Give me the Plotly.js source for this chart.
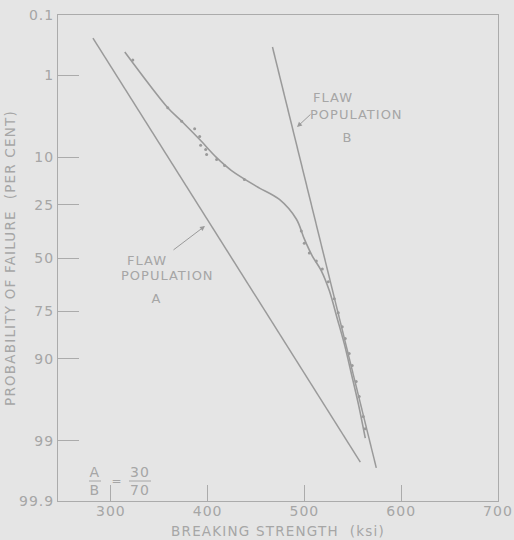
<!DOCTYPE html>
<html>
<head>
<meta charset="utf-8">
<script src="https://cdn.plot.ly/plotly-3.0.1.min.js"></script>
<style>
  html, body { margin: 0; padding: 0; background: #e5e5e5; }
  #chart { width: 514px; height: 540px; }
  .main-svg text { letter-spacing: 1px; }
  .g-xtitle text, .g-ytitle text { letter-spacing: 1.2px; }
</style>
</head>
<body>
<div id="chart"></div>
<script>
// ---- data (breaking strength in ksi, probability of failure in per cent) ----
const probTickPct = [0.1, 1, 10, 25, 50, 75, 90, 99, 99.9];
const probTickText = ["0.1", "1", "10", "25", "50", "75", "90", "99", "99.9"];
const strengthTicks = [300, 400, 500, 600, 700];

// Flaw population A (straight line on probability paper)
const popA_strength = [281.5, 557.8];
const popA_pct = [0.258, 99.527];

// Flaw population B
const popB_strength = [467, 574.3];
const popB_pct = [0.364, 99.62];

// Combined (bimodal) fitted curve
const fit_strength = [314.4, 358.8, 373.2, 391.8, 409.3, 424.7, 450.5, 474.2, 491.8, 500.0, 508.2, 517.5, 525.8, 534.0, 541.2, 548.5, 555.7, 562.9];
const fit_pct = [0.44, 2.8, 4.1, 6.6, 10.1, 13.3, 18.1, 22.8, 31.1, 40.5, 49, 56.5, 66.2, 78, 86.2, 92.9, 96.8, 98.9];

// Experimental points
const exp_strength = [322.7, 358.8, 373.2, 386.6, 391.8, 392.8, 398, 399, 409.3, 417.5, 438,
  496.8, 499.9, 505.1, 512.3, 518.5, 524.7, 530.9, 535, 539.1, 542.2, 546.3, 549.4, 553.5, 556.6, 560.8, 562.8];
const exp_pct = [0.59, 2.8, 4.1, 5.0, 6.1, 7.6, 8.4, 9.4, 10.5, 12.0, 15.9,
  36.6, 42.5, 47.5, 51.5, 55.5, 61.9, 69.8, 75.7, 80.9, 84.7, 88.8, 91.4, 94.2, 96.1, 97.8, 98.5];

// ---- normal probability scale (inverse standard normal CDF, Acklam) ----
function probit(p) {
  const a = [-3.969683028665376e+01, 2.209460984245205e+02, -2.759285104469687e+02, 1.383577518672690e+02, -3.066479806614716e+01, 2.506628277459239e+00];
  const b = [-5.447609879822406e+01, 1.615858368580409e+02, -1.556989798598866e+02, 6.680131188771972e+01, -1.328068155288572e+01];
  const c = [-7.784894002430293e-03, -3.223964580411365e-01, -2.400758277161838e+00, -2.549732539343734e+00, 4.374664141464968e+00, 2.938163982698783e+00];
  const d = [7.784695709041462e-03, 3.224671290700398e-01, 2.445134137142996e+00, 3.754408661907416e+00];
  const pl = 0.02425, ph = 1 - pl;
  let q, r;
  if (p < pl) {
    q = Math.sqrt(-2 * Math.log(p));
    return (((((c[0]*q+c[1])*q+c[2])*q+c[3])*q+c[4])*q+c[5]) / ((((d[0]*q+d[1])*q+d[2])*q+d[3])*q+1);
  } else if (p <= ph) {
    q = p - 0.5; r = q * q;
    return (((((a[0]*r+a[1])*r+a[2])*r+a[3])*r+a[4])*r+a[5])*q / (((((b[0]*r+b[1])*r+b[2])*r+b[3])*r+b[4])*r+1);
  } else {
    q = Math.sqrt(-2 * Math.log(1 - p));
    return -(((((c[0]*q+c[1])*q+c[2])*q+c[3])*q+c[4])*q+c[5]) / ((((d[0]*q+d[1])*q+d[2])*q+d[3])*q+1);
  }
}
const z = pct => probit(pct / 100);

const ink = '#9a9a9a';
const textCol = '#a6a6a6';
const frameCol = '#ababab';
const fontFam = '"DejaVu Sans", "Liberation Sans", sans-serif';

const traces = [
  { x: popA_strength, y: popA_pct.map(z), mode: 'lines', name: 'Flaw population A',
    line: { color: ink, width: 1.5 }, hoverinfo: 'skip' },
  { x: popB_strength, y: popB_pct.map(z), mode: 'lines', name: 'Flaw population B',
    line: { color: ink, width: 1.5 }, hoverinfo: 'skip' },
  { x: fit_strength, y: fit_pct.map(z), mode: 'lines', name: 'A/B = 30/70',
    line: { color: ink, width: 1.6, shape: 'spline', smoothing: 0.9 }, hoverinfo: 'skip' },
  { x: exp_strength, y: exp_pct.map(z), mode: 'markers', name: 'Data',
    marker: { color: ink, size: 3 }, hoverinfo: 'skip' }
];

const annFont = { family: fontFam, size: 13, color: textCol };
function txt(text, px, py, xanchor, size) {
  return { text: text, xref: 'paper', yref: 'paper',
    x: (px - 58) / 440, y: (501 - py) / 486, xanchor: xanchor, yanchor: 'middle',
    showarrow: false, font: Object.assign({}, annFont, size ? { size: size } : {}) };
}
function arrow(tipX, tipY, ax, ay) {
  return { text: '', xref: 'paper', yref: 'paper',
    x: (tipX - 58) / 440, y: (501 - tipY) / 486, ax: ax, ay: ay,
    showarrow: true, arrowhead: 2, arrowsize: 1, arrowwidth: 1, arrowcolor: ink };
}

const layout = {
  width: 514, height: 540,
  margin: { l: 58, r: 16, t: 15, b: 39 },
  paper_bgcolor: '#e5e5e5', plot_bgcolor: '#e5e5e5',
  showlegend: false,
  font: { family: fontFam, size: 14, color: textCol },
  xaxis: {
    range: [245.4, 700.05], tickvals: strengthTicks, ticktext: strengthTicks.map(String),
    ticks: 'inside', ticklen: 16, tickwidth: 1, tickcolor: frameCol,
    showline: true, linecolor: frameCol, linewidth: 1, mirror: true,
    showgrid: false, zeroline: false, ticklabelstandoff: -3,
    tickfont: { family: fontFam, size: 14, color: textCol },
    title: { text: 'BREAKING STRENGTH  (ksi)', font: { family: fontFam, size: 13.5, color: textCol }, standoff: 8 }
  },
  yaxis: {
    range: [z(99.9), z(0.1)], tickvals: probTickPct.map(z), ticktext: probTickText,
    ticks: 'inside', ticklen: 21, tickwidth: 1, tickcolor: frameCol,
    showline: true, linecolor: frameCol, linewidth: 1, mirror: true,
    showgrid: false, zeroline: false,
    tickfont: { family: fontFam, size: 14, color: textCol },
    title: { text: 'PROBABILITY OF FAILURE  (PER CENT)', font: { family: fontFam, size: 13.5, color: textCol }, standoff: 4 }
  },
  annotations: [
    txt('FLAW', 313, 97, 'left'),
    txt('POPULATION', 313, 115, 'left'),
    txt('B', 347, 137, 'center'),
    arrow(297, 127, 15, -14),
    txt('FLAW', 127, 260, 'left'),
    txt('POPULATION', 124, 275, 'left'),
    txt('A', 156, 298, 'center'),
    arrow(205, 226, -33, 25),
    txt('A', 95, 472, 'center', 14),
    txt('B', 95, 490, 'center', 14),
    txt('=', 117, 481, 'center', 12),
    txt('30', 140, 472, 'center', 14),
    txt('70', 140, 490, 'center', 14)
  ],
  shapes: [
    { type: 'line', xref: 'paper', yref: 'paper', x0: (89 - 58) / 440, x1: (101 - 58) / 440,
      y0: (501 - 481) / 486, y1: (501 - 481) / 486, line: { color: textCol, width: 1 } },
    { type: 'line', xref: 'paper', yref: 'paper', x0: (129 - 58) / 440, x1: (151 - 58) / 440,
      y0: (501 - 481) / 486, y1: (501 - 481) / 486, line: { color: textCol, width: 1 } }
  ]
};

Plotly.newPlot('chart', traces, layout, { staticPlot: true, displayModeBar: false });
</script>
</body>
</html>
